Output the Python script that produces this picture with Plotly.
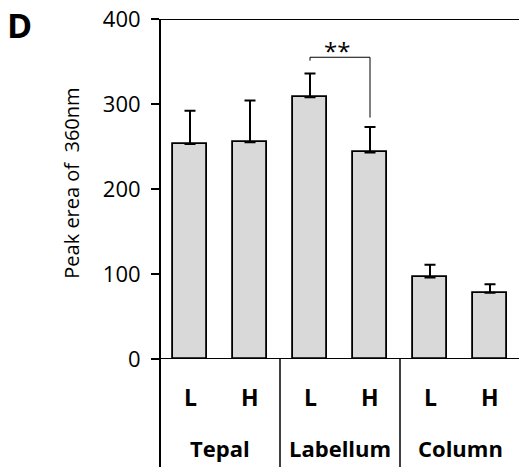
import plotly.graph_objects as go

categories = ["Tepal L", "Tepal H", "Labellum L", "Labellum H", "Column L", "Column H"]
sub_labels = ["L", "H", "L", "H", "L", "H"]
groups = ["Tepal", "Labellum", "Column"]
values = [253, 255, 308, 243, 96, 78]
errors = [39, 49, 28, 30, 15, 10]
y_ticks = [0, 100, 200, 300, 400]

W, H = 519, 468
L, R, T, B = 160, 0, 19, 109
FONT = "Open Sans"

x_idx = list(range(len(categories)))

fig = go.Figure()
fig.add_trace(go.Bar(
    x=x_idx, y=values, width=0.57,
    marker=dict(color="#d9d9d9", line=dict(color="black", width=1.8)),
    error_y=dict(type="data", array=errors, arrayminus=[0] * len(errors),
                 symmetric=False, color="black", thickness=2, width=5.5),
    showlegend=False,
))

fig.update_layout(
    width=W, height=H,
    margin=dict(l=L, r=R, t=T, b=B, pad=0),
    paper_bgcolor="white", plot_bgcolor="white",
    font=dict(family=FONT, color="black"),
    bargap=0,
    xaxis=dict(range=[-0.5, 5.5 - 1 / 60], showticklabels=False, ticks="",
               showgrid=False, zeroline=False, showline=False, fixedrange=True),
    yaxis=dict(range=[0, 400], tickvals=y_ticks, ticks="outside", ticklen=8,
               tickwidth=1.5, tickcolor="black", showgrid=False, zeroline=False,
               showline=False, tickfont=dict(size=22, family=FONT),
               ticklabelstandoff=6, fixedrange=True),
)

shapes = []
shapes.append(dict(type="line", xref="paper", yref="paper", x0=0, x1=0, y0=1.0, y1=-0.318,
                   line=dict(color="black", width=2)))
shapes.append(dict(type="line", xref="paper", yref="y", x0=0, x1=1, y0=400, y1=400,
                   line=dict(color="black", width=2)))
shapes.append(dict(type="line", xref="paper", yref="y", x0=-8 / 359, x1=1, y0=0, y1=0,
                   line=dict(color="black", width=2)))
for sx in [1.5, 3.5]:
    shapes.append(dict(type="line", xref="x", yref="paper", x0=sx, x1=sx, y0=0, y1=-0.318,
                       line=dict(color="black", width=1.5)))
bracket_top = 355
shapes.append(dict(type="line", xref="x", yref="y", x0=2, x1=2, y0=351, y1=bracket_top,
                   line=dict(color="black", width=1)))
shapes.append(dict(type="line", xref="x", yref="y", x0=2, x1=3, y0=bracket_top, y1=bracket_top,
                   line=dict(color="black", width=1)))
shapes.append(dict(type="line", xref="x", yref="y", x0=3, x1=3, y0=bracket_top, y1=284,
                   line=dict(color="black", width=1)))
fig.update_layout(shapes=shapes)

ann = []
for i, s in enumerate(sub_labels):
    ann.append(dict(x=i, y=-37.5 / 340, xref="x", yref="paper", text="<b>%s</b>" % s,
                    showarrow=False, font=dict(size=23, family=FONT), yanchor="middle"))
for j, g in enumerate(groups):
    ann.append(dict(x=2 * j + 0.5, y=-89 / 340, xref="x", yref="paper", text="<b>%s</b>" % g,
                    showarrow=False, font=dict(size=22, family=FONT), yanchor="middle"))
ann.append(dict(x=2.45, y=bracket_top + 8, xref="x", yref="y", text="**", showarrow=False,
                font=dict(size=24, family=FONT), yanchor="middle"))
ann.append(dict(x=(72 - L) / 359, y=(359.3 - 184) / 340, xref="paper", yref="paper",
                text="Peak erea of  360nm", textangle=-90, showarrow=False,
                font=dict(size=20, family=FONT), xanchor="center", yanchor="middle"))
ann.append(dict(x=(19 - L) / 359, y=(359.3 - 25) / 340, xref="paper", yref="paper",
                text="<b>D</b>", showarrow=False, font=dict(size=34, family=FONT),
                xanchor="center", yanchor="middle"))
fig.update_layout(annotations=ann)

fig.write_html("out.html", config={"displayModeBar": False},
               post_script="document.body.style.margin='0';document.body.style.overflow='hidden';")
